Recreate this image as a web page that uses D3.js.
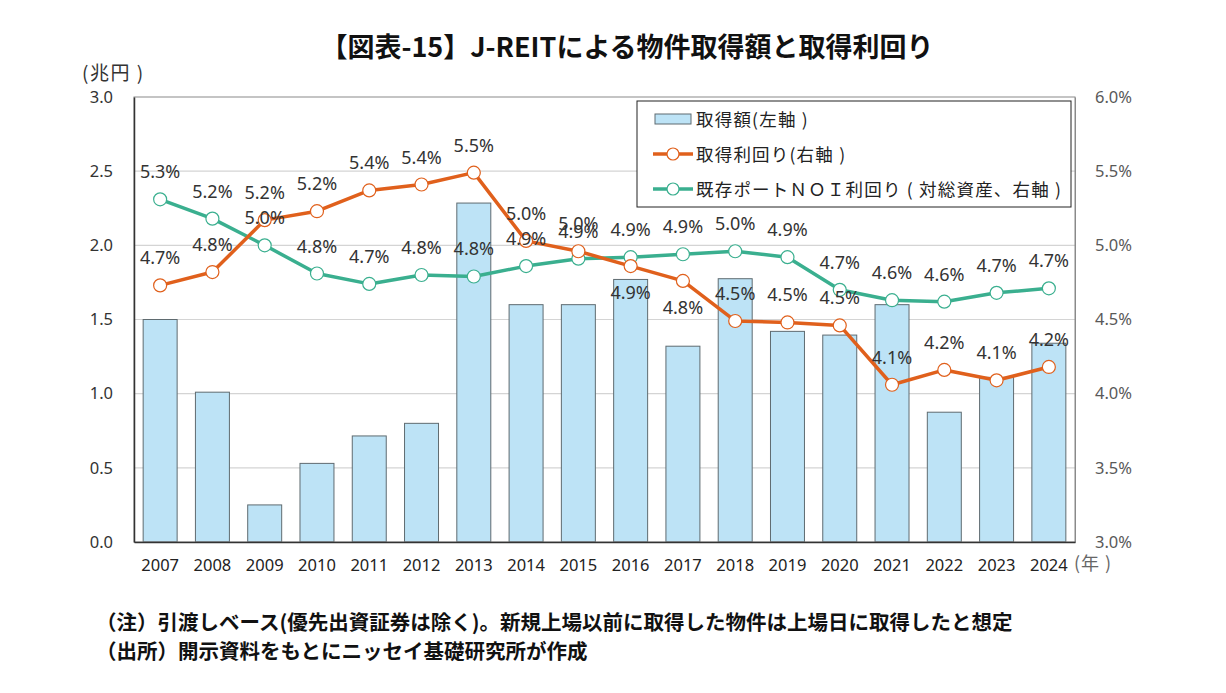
<!DOCTYPE html>
<html>
<head>
<meta charset="utf-8">
<script src="https://cdn.jsdelivr.net/npm/d3@7"></script>
<style>
  body { margin: 0; background: #fff; }
  svg { font-family: "Noto Sans CJK JP", "Noto Sans", sans-serif; }
</style>
</head>
<body>
<svg id="chart" width="1226" height="693"></svg>
<script>
const years = ['2007', '2008', '2009', '2010', '2011', '2012', '2013', '2014', '2015',
  '2016', '2017', '2018', '2019', '2020', '2021', '2022', '2023', '2024'];
// 取得額 (兆円)
const amount = [1.50, 1.01, 0.25, 0.53, 0.715, 0.80, 2.285, 1.60, 1.60,
  1.77, 1.32, 1.775, 1.42, 1.395, 1.60, 0.875, 1.11, 1.34];
// 取得利回り (%)
const acqYield = [4.73, 4.82, 5.17, 5.23, 5.37, 5.41, 5.49, 5.03, 4.96,
  4.86, 4.76, 4.49, 4.48, 4.46, 4.06, 4.16, 4.09, 4.18];
// 既存ポートNOI利回り (%)
const noiYield = [5.31, 5.18, 5.00, 4.81, 4.74, 4.80, 4.79, 4.86, 4.91,
  4.92, 4.94, 4.96, 4.92, 4.70, 4.63, 4.62, 4.68, 4.71];
const leftTicks = [0, 0.5, 1.0, 1.5, 2.0, 2.5, 3.0];
const rightTicks = [3.0, 3.5, 4.0, 4.5, 5.0, 5.5, 6.0];
// years where the 取得利回り label sits under the point
const acqLabelBelow = ['2016', '2017'];

const ORANGE = '#e0601c';
const GREEN = '#3aaf8f';
const BAR = '#bde3f6';

const svg = d3.select('#chart');
const plot = {left: 134, right: 1075, top: 97, bottom: 542};

const x = d3.scaleBand().domain(years).range([plot.left, plot.right]).paddingInner(0.35).paddingOuter(0.175);
const yL = d3.scaleLinear().domain([0, 3]).range([plot.bottom, plot.top]);
const yR = d3.scaleLinear().domain([3, 6]).range([plot.bottom, plot.top]);
const cx = d => x(d) + x.bandwidth() / 2;

// title
svg.append('text')
  .attr('x', 627).attr('y', 57)
  .attr('text-anchor', 'middle')
  .attr('font-size', 27).attr('font-weight', 'bold').attr('fill', '#111')
  .text('【図表-15】J-REITによる物件取得額と取得利回り');

// gridlines
svg.append('g').selectAll('line')
  .data(leftTicks.filter(t => t > 0 && t < 3))
  .join('line')
  .attr('x1', plot.left).attr('x2', plot.right)
  .attr('y1', d => yL(d)).attr('y2', d => yL(d))
  .attr('stroke', '#d4d4d4').attr('stroke-width', 1.2);

// bars
svg.append('g').selectAll('rect')
  .data(years)
  .join('rect')
  .attr('x', d => x(d))
  .attr('width', x.bandwidth())
  .attr('y', (d, i) => yL(amount[i]))
  .attr('height', (d, i) => yL(0) - yL(amount[i]))
  .attr('fill', BAR).attr('stroke', '#5f6b70').attr('stroke-width', 1);

// plot frame
svg.append('rect')
  .attr('x', plot.left).attr('y', plot.top)
  .attr('width', plot.right - plot.left).attr('height', plot.bottom - plot.top)
  .attr('fill', 'none').attr('stroke', '#8a8a8a').attr('stroke-width', 1);

// left axis
const axL = svg.append('g')
  .attr('transform', `translate(${plot.left},0)`)
  .call(d3.axisLeft(yL).tickValues(leftTicks).tickFormat(d3.format('.1f')).tickSize(0).tickPadding(21));
axL.select('.domain').attr('stroke', '#333').attr('stroke-width', 1.5);
axL.selectAll('text').attr('font-size', 16.5).attr('fill', '#333').attr('font-family', '"Noto Sans", sans-serif');

// right axis
const axR = svg.append('g')
  .attr('transform', `translate(${plot.right},0)`)
  .call(d3.axisRight(yR).tickValues(rightTicks).tickFormat(d => d3.format('.1f')(d) + '%').tickSize(0).tickPadding(20));
axR.select('.domain').attr('stroke', '#8a8a8a');
axR.selectAll('text').attr('font-size', 16.5).attr('fill', '#595959').attr('font-family', '"Noto Sans", sans-serif');

// bottom axis
const axB = svg.append('g')
  .attr('transform', `translate(0,${plot.bottom})`)
  .call(d3.axisBottom(x).tickSize(0).tickPadding(17));
axB.select('.domain').attr('stroke', '#333').attr('stroke-width', 1.5);
axB.selectAll('text').attr('font-size', 16.5).attr('fill', '#222').attr('font-family', '"Noto Sans", sans-serif');

// unit labels
svg.append('text').attr('x', 82).attr('y', 80)
  .attr('font-size', 19).attr('letter-spacing', 1.5).attr('fill', '#333').text('(兆円 )');
svg.append('text').attr('x', 1074).attr('y', 570)
  .attr('font-size', 18).attr('letter-spacing', 1).attr('fill', '#666').text('(年 )');

// lines
const drawSeries = (vals, color) => {
  const line = d3.line().x((d, i) => cx(years[i])).y(d => yR(d));
  svg.append('path')
    .datum(vals)
    .attr('d', line)
    .attr('fill', 'none').attr('stroke', color)
    .attr('stroke-width', 3.5).attr('stroke-linejoin', 'round');
  svg.append('g').selectAll('circle')
    .data(vals)
    .join('circle')
    .attr('cx', (d, i) => cx(years[i]))
    .attr('cy', d => yR(d))
    .attr('r', 6.5)
    .attr('fill', '#fff').attr('stroke', color).attr('stroke-width', 1.2);
};
drawSeries(noiYield, GREEN);
drawSeries(acqYield, ORANGE);

// data labels
const fmt = d => d3.format('.1f')(d) + '%';
const drawLabels = (vals, below) => {
  svg.append('g').selectAll('text')
    .data(vals)
    .join('text')
    .attr('x', (d, i) => cx(years[i]))
    .attr('y', (d, i) => yR(d) + (below.includes(years[i]) ? 33 : -21))
    .attr('text-anchor', 'middle')
    .attr('font-size', 18).attr('fill', '#333')
    .attr('font-family', '"Noto Sans", sans-serif')
    .text(fmt);
};
drawLabels(noiYield, []);
drawLabels(acqYield, acqLabelBelow);

// legend
const lg = svg.append('g').attr('transform', 'translate(637,101)');
lg.append('rect').attr('width', 434).attr('height', 106)
  .attr('fill', '#fff').attr('stroke', '#222').attr('stroke-width', 1);
const legendItems = [
  {label: '取得額(左軸 )', type: 'bar'},
  {label: '取得利回り(右軸 )', type: 'line', color: ORANGE},
  {label: '既存ポートＮＯＩ利回り ( 対総資産、右軸 )', type: 'line', color: GREEN}
];
legendItems.forEach((it, i) => {
  const yy = 18 + i * 35;
  if (it.type === 'bar') {
    lg.append('rect').attr('x', 18).attr('y', yy - 5).attr('width', 36).attr('height', 10)
      .attr('fill', BAR).attr('stroke', '#5f6b70');
  } else {
    lg.append('line').attr('x1', 16).attr('x2', 56).attr('y1', yy).attr('y2', yy)
      .attr('stroke', it.color).attr('stroke-width', 3.5);
    lg.append('circle').attr('cx', 36).attr('cy', yy).attr('r', 6)
      .attr('fill', '#fff').attr('stroke', it.color).attr('stroke-width', 1.2);
  }
  lg.append('text').attr('x', 59).attr('y', yy + 6.5)
    .attr('font-size', 17.5).attr('letter-spacing', 1.2).attr('fill', '#222').text(it.label);
});

// notes
const notes = [
  '（注）引渡しベース(優先出資証券は除く)。新規上場以前に取得した物件は上場日に取得したと想定',
  '（出所）開示資料をもとにニッセイ基礎研究所が作成'
];
svg.append('g').selectAll('text')
  .data(notes)
  .join('text')
  .attr('x', 96).attr('y', (d, i) => 630 + i * 29)
  .attr('font-size', 20.5).attr('font-weight', 'bold').attr('fill', '#111')
  .text(d => d);
</script>
</body>
</html>
